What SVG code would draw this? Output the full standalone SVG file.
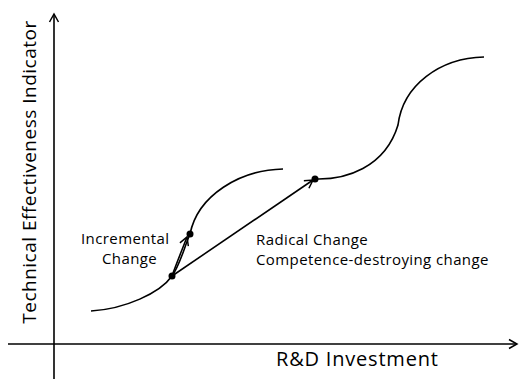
<svg xmlns="http://www.w3.org/2000/svg" width="519" height="379" viewBox="0 0 519 379">
<style>
.ln{fill:none;stroke:#000;stroke-width:1.6}
.t{font-family:"Open Sans","Noto Sans",sans-serif;fill:#000}
.s{font-size:15px;letter-spacing:0.4px}
</style>
<defs>
<marker id="ah" markerWidth="12" markerHeight="12" refX="10" refY="6" orient="auto" markerUnits="userSpaceOnUse">
<path d="M2,1.5 L10,6 L2,10.5" fill="none" stroke="#000" stroke-width="1.5"/>
</marker>
</defs>
<rect width="519" height="379" fill="#fff"/>
<g id="axes">
<line class="ln" x1="54" y1="379" x2="54" y2="14" marker-end="url(#ah)"/>
<line class="ln" x1="8" y1="344" x2="517" y2="344" marker-end="url(#ah)"/>
</g>
<g id="curve1">
<path class="ln" d="M91,311 C125,309 160,293 172,276 C180,265 184,248 190,234 C198,195 240,170 283,169"/>
</g>
<g id="curve2">
<path class="ln" d="M315,179 C345,180 385,168 398,125 C403,85 440,58 484,57"/>
</g>
<g id="connectors">
<path class="ln" d="M172,276 C177,262 182,250 187,237" marker-end="url(#ah)"/>
<line class="ln" x1="172" y1="276" x2="313" y2="180" marker-end="url(#ah)"/>
</g>
<g id="dots">
<circle cx="172" cy="276" r="3.5"/>
<circle cx="190" cy="234" r="3.5"/>
<circle cx="315" cy="179" r="3.5"/>
</g>
<g id="labels">
<text class="t s" x="81" y="244">Incremental</text>
<text class="t s" x="102" y="264">Change</text>
<text class="t s" x="256" y="245">Radical Change</text>
<text class="t s" x="256" y="265">Competence-destroying change</text>
<text class="t" x="276" y="366" font-size="20" letter-spacing="0.8">R&amp;D Investment</text>
<text class="t" font-size="19" letter-spacing="0.5" text-anchor="middle" transform="translate(36,172) rotate(-90)">Technical Effectiveness Indicator</text>
</g>
</svg>
